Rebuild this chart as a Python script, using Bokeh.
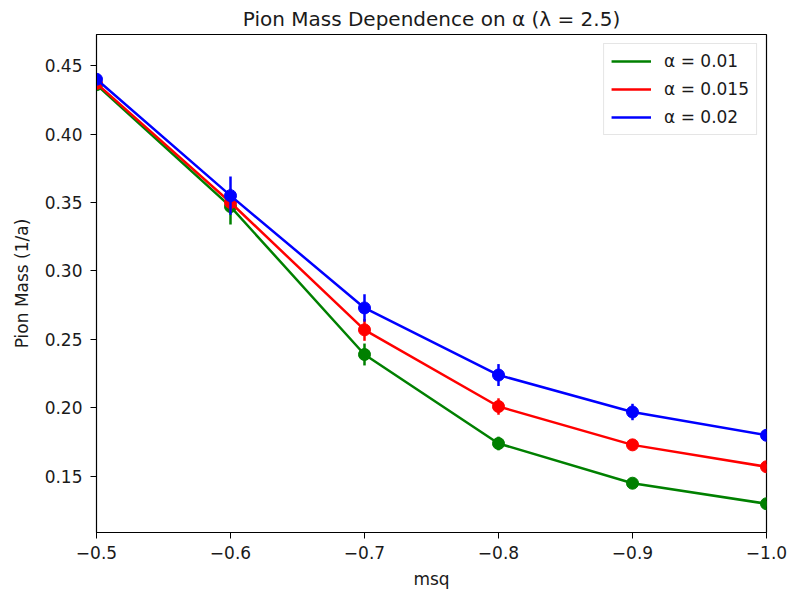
from bokeh.plotting import figure
from bokeh.models import Range1d, FixedTicker, Legend, LegendItem
from bokeh.embed import file_html
from bokeh.resources import INLINE

msq = [-0.5, -0.6, -0.7, -0.8, -0.9, -1.0]
labels = ["α = 0.01", "α = 0.015", "α = 0.02"]
colors = ["green", "red", "blue"]
mass_001 = [0.436, 0.347, 0.239, 0.174, 0.145, 0.130]
err_001 = [0.002, 0.013, 0.008, 0.005, 0.002, 0.002]
mass_0015 = [0.437, 0.350, 0.257, 0.201, 0.173, 0.157]
err_0015 = [0.002, 0.007, 0.008, 0.006, 0.004, 0.002]
mass_002 = [0.440, 0.355, 0.273, 0.224, 0.197, 0.180]
err_002 = [0.002, 0.014, 0.010, 0.008, 0.006, 0.003]
series = [mass_001, mass_0015, mass_002]
errors = [err_001, err_0015, err_002]
x_ticks = [-0.5, -0.6, -0.7, -0.8, -0.9, -1.0]
y_ticks = [0.15, 0.20, 0.25, 0.30, 0.35, 0.40, 0.45]

p = figure(frame_width=670, frame_height=498, output_backend="svg", toolbar_location=None,
           x_range=Range1d(-0.5, -1.0), y_range=Range1d(0.109, 0.4727),
           title="Pion Mass Dependence on α (λ = 2.5)",
           min_border_left=96, min_border_right=22, min_border_top=34, min_border_bottom=64)
p.grid.visible = False
p.outline_line_color = "black"
p.outline_line_width = 1.2
p.background_fill_color = "white"
p.border_fill_color = "white"

p.title.align = "center"
p.title.text_font = "DejaVu Sans"
p.title.text_font_size = "20px"
p.title.text_font_style = "normal"
p.title.text_color = "#1a1a1a"
p.title.standoff = 8
p.title.offset = 0

for ax in (p.xaxis[0], p.yaxis[0]):
    ax.axis_label_text_font = "DejaVu Sans"
    ax.axis_label_text_font_size = "17px"
    ax.axis_label_text_font_style = "normal"
    ax.axis_label_text_color = "#1a1a1a"
    ax.major_label_text_font = "DejaVu Sans"
    ax.major_label_text_font_size = "17px"
    ax.major_label_text_color = "#1a1a1a"
    ax.major_label_standoff = 8
    ax.major_tick_in = 0
    ax.major_tick_out = 6
    ax.major_tick_line_color = "black"
    ax.minor_tick_in = 0
    ax.minor_tick_out = 0
    ax.axis_line_color = "black"

p.yaxis.axis_label_standoff = 10
p.xaxis.axis_label_standoff = 7
p.xaxis.major_label_standoff = 7
p.xaxis.axis_label = "msq"
p.yaxis.axis_label = "Pion Mass (1/a)"
p.xaxis.ticker = FixedTicker(ticks=x_ticks)
p.yaxis.ticker = FixedTicker(ticks=y_ticks)
p.xaxis.major_label_overrides = {t: f"{t:.1f}".replace("-", "−") for t in x_ticks}
p.yaxis.major_label_overrides = {t: f"{t:.2f}" for t in y_ticks}

items = []
for ys, es, c, lab in zip(series, errors, colors, labels):
    lo = [y - e for y, e in zip(ys, es)]
    hi = [y + e for y, e in zip(ys, es)]
    p.segment(x0=msq, y0=lo, x1=msq, y1=hi, line_color=c, line_width=2.5)
    r = p.line(msq, ys, line_color=c, line_width=2.5)
    p.scatter(msq, ys, size=12, fill_color=c, line_color=c)
    items.append(LegendItem(label=lab, renderers=[r]))

legend = Legend(items=items, location="top_right")
legend.label_text_font = "DejaVu Sans"
legend.label_text_font_size = "17px"
legend.label_text_color = "#1a1a1a"
legend.glyph_width = 40
legend.glyph_height = 20
legend.label_height = 20
legend.label_standoff = 13
legend.spacing = 8
legend.padding = 7
legend.margin = 9
legend.border_line_color = "#cccccc"
legend.background_fill_alpha = 0.8
p.add_layout(legend)

open("out.html", "w").write(file_html(p, INLINE))
